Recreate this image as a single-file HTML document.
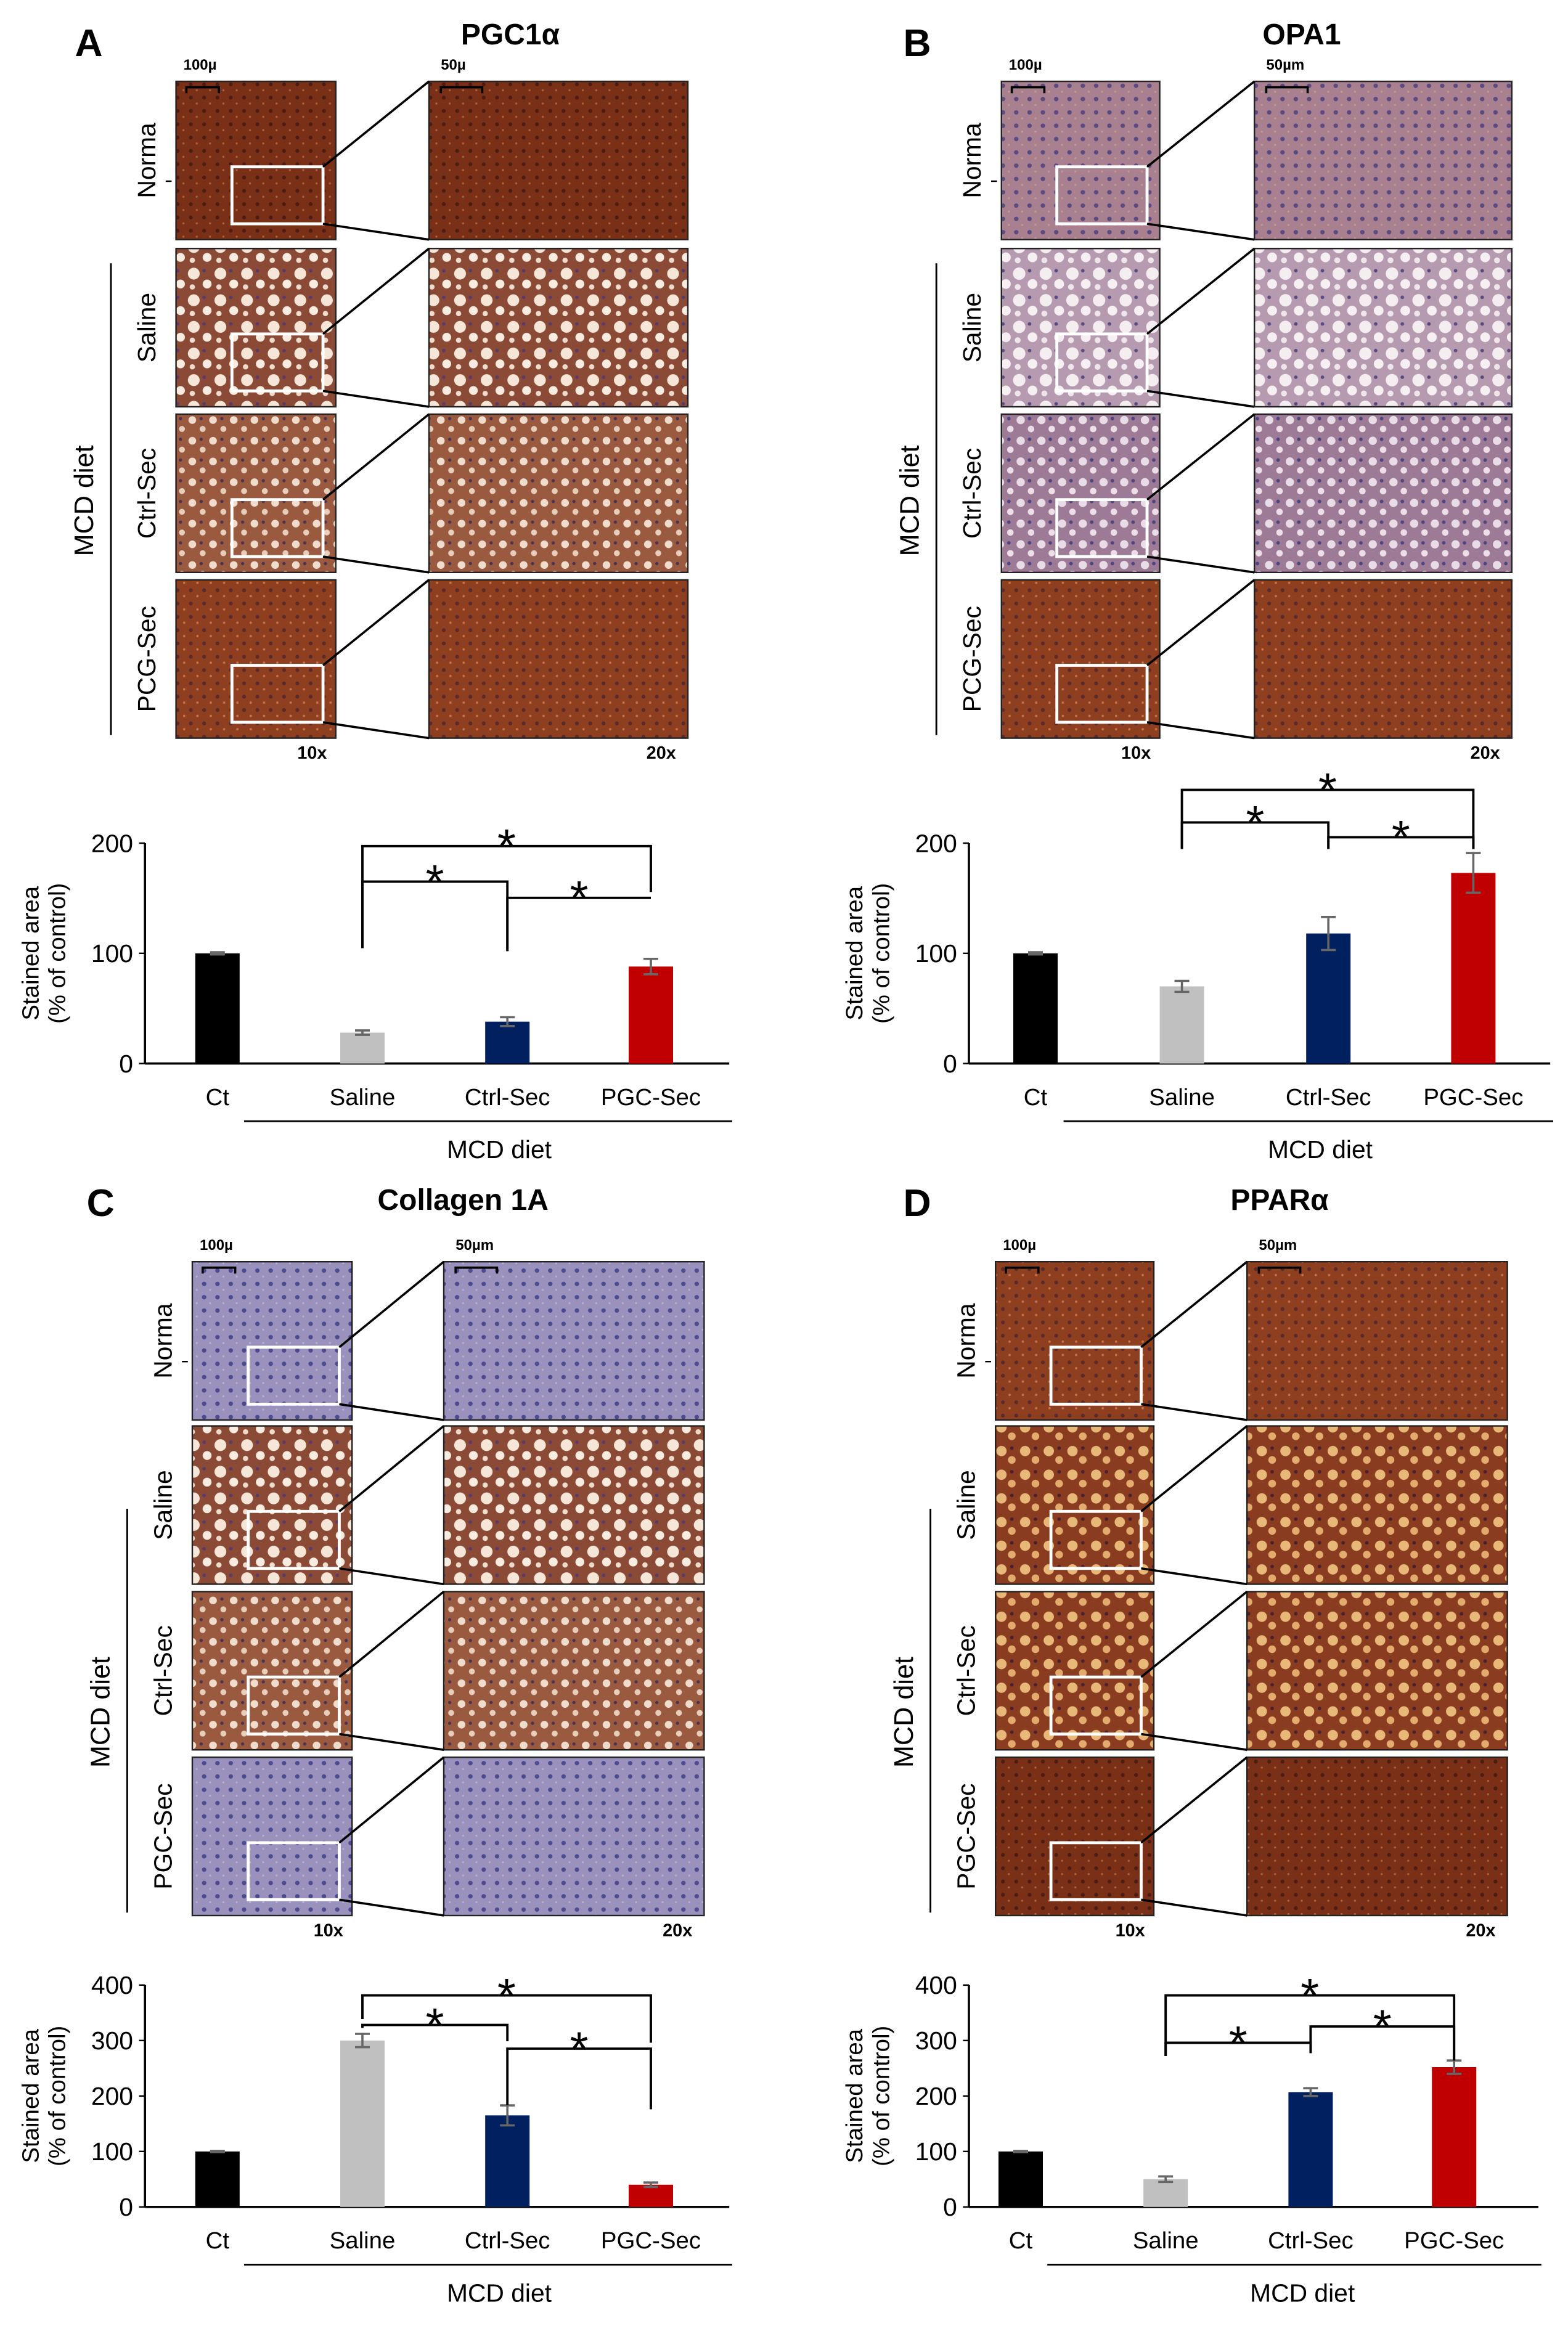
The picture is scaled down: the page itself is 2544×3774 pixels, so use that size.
<!DOCTYPE html>
<html><head><meta charset="utf-8">
<style>
html,body{margin:0;padding:0;background:#fff;}
svg{display:block;}
text{font-family:"Liberation Sans",sans-serif;}
</style></head>
<body>
<svg id="fig" width="2544" height="3774" viewBox="0 0 1060 1572.5" xmlns="http://www.w3.org/2000/svg">
<defs>
<pattern id="nuc-brown" width="9" height="9" patternUnits="userSpaceOnUse"><rect width="9" height="9" fill="#8e3f1f"/><circle cx="3" cy="3" r="1.3" fill="#5a2a2a"/><circle cx="7.5" cy="7" r="0.8" fill="#c8714a"/></pattern>
<pattern id="nuc-dark" width="9" height="9" patternUnits="userSpaceOnUse"><rect width="9" height="9" fill="#7a3016"/><circle cx="3" cy="3" r="1.3" fill="#4a1c14"/><circle cx="7" cy="7" r="0.7" fill="#b0603a"/></pattern>
<pattern id="nuc-purple" width="9" height="9" patternUnits="userSpaceOnUse"><rect width="9" height="9" fill="#a88090"/><circle cx="3" cy="4" r="1.5" fill="#5a4a80"/><circle cx="7" cy="8" r="0.7" fill="#c49a8a"/></pattern>
<pattern id="nuc-blue" width="9" height="9" patternUnits="userSpaceOnUse"><rect width="9" height="9" fill="#9a92bc"/><circle cx="3" cy="4" r="1.5" fill="#4d4a90"/><circle cx="7" cy="8" r="0.7" fill="#b8b0d0"/></pattern>
<pattern id="vac-brown" width="18" height="18" patternUnits="userSpaceOnUse"><rect width="18" height="18" fill="#8a4a36"/><circle cx="5" cy="5" r="4" fill="#f5e6d8"/><circle cx="14" cy="12" r="3" fill="#f8ece0"/><circle cx="12" cy="3" r="1.2" fill="#5a3a6a"/><circle cx="4" cy="14" r="1.8" fill="#f0dccc"/></pattern>
<pattern id="vac-light" width="18" height="18" patternUnits="userSpaceOnUse"><rect width="18" height="18" fill="#b59ab0"/><circle cx="5" cy="5" r="4.2" fill="#f4eef0"/><circle cx="14" cy="12" r="3.3" fill="#f6f0f2"/><circle cx="12" cy="3" r="1.2" fill="#5a4a80"/><circle cx="4" cy="14" r="2" fill="#efe6ec"/></pattern>
<pattern id="vac-purple" width="14" height="14" patternUnits="userSpaceOnUse"><rect width="14" height="14" fill="#9d7a95"/><circle cx="4" cy="4" r="2.8" fill="#e8dce6"/><circle cx="11" cy="10" r="2.2" fill="#ecdfe8"/><circle cx="10" cy="3" r="1.2" fill="#4e4580"/></pattern>
<pattern id="vac-orange" width="16" height="16" patternUnits="userSpaceOnUse"><rect width="16" height="16" fill="#8a3c20"/><circle cx="5" cy="5" r="3.5" fill="#e8b878"/><circle cx="12" cy="11" r="2.6" fill="#e3ac6c"/><circle cx="12" cy="3" r="1.2" fill="#4a2030"/></pattern>
<pattern id="vac-brownlight" width="14" height="14" patternUnits="userSpaceOnUse"><rect width="14" height="14" fill="#9a5a40"/><circle cx="4" cy="4" r="2.6" fill="#efdccc"/><circle cx="11" cy="10" r="2" fill="#e8cfbc"/><circle cx="10" cy="3" r="1.1" fill="#4e3050"/></pattern>
</defs>
<g id="root"></g>
</svg>
<script>
// ---- chart data ----
const categories = ["Ct","Saline","Ctrl-Sec","PGC-Sec"];
const valuesA = [100, 28, 38, 88];
const errorsA = [1, 2, 4, 7];
const valuesB = [100, 70, 118, 173];
const errorsB = [1, 5, 15, 18];
const valuesC = [100, 300, 165, 40];
const errorsC = [1, 12, 18, 4];
const valuesD = [100, 50, 207, 252];
const errorsD = [1, 5, 7, 12];
const ticksAB = [0, 100, 200];
const ticksCD = [0, 100, 200, 300, 400];
const barColors = ["#000000","#c0c0c0","#002060","#c00000"];

const NS = "http://www.w3.org/2000/svg";
const root = document.getElementById("root");
function mk(tag, attrs, parent, txt){
  const e = document.createElementNS(NS, tag);
  for (const k in attrs) e.setAttribute(k, attrs[k]);
  if (txt !== undefined) e.textContent = txt;
  (parent || root).appendChild(e);
  return e;
}

// ---- histology panels ----
function panel(cfg){
  const g = mk("g", {});
  
  
  const lab = mk("text", {x: cfg.labX, y: cfg.labY, "font-size": 26, "font-weight": "bold", "text-anchor": "middle"}, g, cfg.letter);
  
  
  const tt = mk("text", {x: cfg.titleX, y: cfg.titleY, "font-size": 20, "font-weight": "bold", "text-anchor": "middle"}, g, cfg.title);
  
  
  const rowNames = ["Norma","Saline","Ctrl-Sec", cfg.lastRow];
  cfg.rows.forEach((ry, i) => {
    const h = cfg.h;
    const s = mk("rect", {x: cfg.sx, y: ry, width: cfg.sw, height: h, fill: "url(#" + cfg.fills[i][0] + ")", stroke: "#222", "stroke-width": 1}, g);
    
    
    const l = mk("rect", {x: cfg.lx, y: ry, width: cfg.lw, height: h, fill: "url(#" + cfg.fills[i][1] + ")", stroke: "#222", "stroke-width": 1}, g);
    
    
    const bx = cfg.sx + cfg.sw * 0.35, bw = cfg.sw * 0.57, by = ry + h * 0.54, bh = h * 0.36;
    const b = mk("rect", {x: bx, y: by, width: bw, height: bh, fill: "none", stroke: "#fff", "stroke-width": 2}, g);
    
    
    mk("line", {x1: bx + bw, y1: by, x2: cfg.lx, y2: ry, stroke: "#000", "stroke-width": 1.5}, g);
    mk("line", {x1: bx + bw, y1: by + bh, x2: cfg.lx, y2: ry + h, stroke: "#000", "stroke-width": 1.5}, g);
    const rl = mk("text", {transform: "translate(" + (cfg.sx - 14) + "," + (ry + h / 2) + ") rotate(-90)", "font-size": 17, "text-anchor": "middle"}, g, rowNames[i]);
    
    
  });
  mk("line", {x1: cfg.sx - 7, y1: cfg.rows[0] + cfg.h / 2 + 14, x2: cfg.sx - 3, y2: cfg.rows[0] + cfg.h / 2 + 14, stroke: "#000"}, g);
  mk("text", {x: cfg.sx + 5, y: cfg.rows[0] - 8, "font-size": 10, "font-weight": "bold"}, g, "100µ");
  mk("text", {x: cfg.lx + 8, y: cfg.rows[0] - 8, "font-size": 10, "font-weight": "bold"}, g, cfg.scale2);
  mk("path", {d: "M" + (cfg.sx + 7) + "," + (cfg.rows[0] + 8) + "v-4h22v4", stroke: "#000", fill: "none", "stroke-width": 1.5}, g);
  mk("path", {d: "M" + (cfg.lx + 8) + "," + (cfg.rows[0] + 8) + "v-4h28v4", stroke: "#000", fill: "none", "stroke-width": 1.5}, g);
  const last = cfg.rows[3] + cfg.h;
  mk("text", {x: cfg.sx + cfg.sw - 16, y: last + 14, "font-size": 12, "font-weight": "bold", "text-anchor": "middle"}, g, "10x");
  mk("text", {x: cfg.lx + cfg.lw - 18, y: last + 14, "font-size": 12, "font-weight": "bold", "text-anchor": "middle"}, g, "20x");
  const mx = cfg.sx - 44;
  mk("line", {x1: mx, y1: cfg.mcdTop, x2: mx, y2: last - 2, stroke: "#000", "stroke-width": 1.2}, g);
  const md = mk("text", {transform: "translate(" + (mx - 12) + "," + ((cfg.mcdTop + last) / 2) + ") rotate(-90)", "font-size": 18, "text-anchor": "middle"}, g, "MCD diet");
  
  
}

panel({name: "pgc1a", letter: "A", labX: 60, labY: 38, title: "PGC1α", titleX: 345, titleY: 30, sx: 119, sw: 108, lx: 290, lw: 175, h: 107,
  rows: [55, 168, 280, 392], lastRow: "PCG-Sec", scale2: "50µ", mcdTop: 178,
  fills: [["nuc-dark","nuc-dark"],["vac-brown","vac-brown"],["vac-brownlight","vac-brownlight"],["nuc-brown","nuc-brown"]]});
panel({name: "opa1", letter: "B", labX: 620, labY: 38, title: "OPA1", titleX: 880, titleY: 30, sx: 677, sw: 107, lx: 848, lw: 174, h: 107,
  rows: [55, 168, 280, 392], lastRow: "PCG-Sec", scale2: "50µm", mcdTop: 178,
  fills: [["nuc-purple","nuc-purple"],["vac-light","vac-light"],["vac-purple","vac-purple"],["nuc-brown","nuc-brown"]]});
panel({name: "collagen1a", letter: "C", labX: 68, labY: 822, title: "Collagen 1A", titleX: 313, titleY: 818, sx: 130, sw: 108, lx: 300, lw: 176, h: 107,
  rows: [853, 964, 1076, 1188], lastRow: "PGC-Sec", scale2: "50µm", mcdTop: 1020,
  fills: [["nuc-blue","nuc-blue"],["vac-brown","vac-brown"],["vac-brownlight","vac-brownlight"],["nuc-blue","nuc-blue"]]});
panel({name: "ppara", letter: "D", labX: 620, labY: 822, title: "PPARα", titleX: 865, titleY: 818, sx: 673, sw: 107, lx: 843, lw: 176, h: 107,
  rows: [853, 964, 1076, 1188], lastRow: "PGC-Sec", scale2: "50µm", mcdTop: 1020,
  fills: [["nuc-brown","nuc-brown"],["vac-orange","vac-orange"],["vac-orange","vac-orange"],["nuc-dark","nuc-dark"]]});

// ---- bar charts ----
function chart(cfg, values, errors, ticks){
  const g = mk("g", {});
  
  
  const tmax = ticks[ticks.length - 1];
  const y = v => cfg.y0 - (v / tmax) * (cfg.y0 - cfg.yTop);
  const ax = mk("line", {x1: cfg.axX, y1: cfg.yTop, x2: cfg.axX, y2: cfg.y0, stroke: "#000", "stroke-width": 1.5}, g);
  
  
  const xa = mk("line", {x1: cfg.axX, y1: cfg.y0, x2: cfg.axEnd, y2: cfg.y0, stroke: "#000", "stroke-width": 1.5}, g);
  
  
  ticks.forEach(t => {
    mk("line", {x1: cfg.axX - 4, y1: y(t), x2: cfg.axX, y2: y(t), stroke: "#000"}, g);
    const tl = mk("text", {x: cfg.axX - 8, y: y(t) + 6, "font-size": 17, "text-anchor": "end"}, g, t);
    
    
  });
  const yt = mk("text", {transform: "translate(" + (cfg.axX - 72) + "," + ((cfg.y0 + cfg.yTop) / 2) + ") rotate(-90)", "font-size": 16, "text-anchor": "middle"}, g);
  
  
  mk("tspan", {x: 0, dy: 0}, yt, "Stained area");
  mk("tspan", {x: 0, dy: 18}, yt, "(% of control)");
  values.forEach((v, i) => {
    const cx = cfg.xs[i];
    const bar = mk("rect", {x: cx - 15, y: y(v), width: 30, height: cfg.y0 - y(v), fill: barColors[i]}, g);
    
    
    const e = errors[i];
    const eb = mk("path", {d: "M" + (cx - 5) + "," + y(v + e) + "h10M" + cx + "," + y(v + e) + "V" + y(v - e) + "M" + (cx - 5) + "," + y(v - e) + "h10", stroke: "#666", "stroke-width": 1.5, fill: "none"}, g);
    
    
    const xl = mk("text", {x: cx, y: cfg.y0 + 28, "font-size": 16, "text-anchor": "middle"}, g, categories[i]);
    
    
  });
  mk("line", {x1: cfg.xs[1] - 80, y1: cfg.y0 + 39, x2: cfg.axEnd + 2, y2: cfg.y0 + 39, stroke: "#000", "stroke-width": 1.2}, g);
  const md = mk("text", {x: (cfg.xs[1] + cfg.xs[3]) / 2 - 5, y: cfg.y0 + 64, "font-size": 17, "text-anchor": "middle"}, g, "MCD diet");
  
  
  cfg.brackets.forEach(b => {
    const [a, c, ly, da, dc] = b;
    const xa1 = cfg.xs[a], xc = cfg.xs[c];
    const br = mk("path", {d: "M" + xa1 + "," + da + "V" + ly + "H" + xc + "V" + dc, stroke: "#000", "stroke-width": 1.6, fill: "none"}, g);
    
    
    const st = mk("text", {x: (xa1 + xc) / 2, y: ly + 11, "font-size": 32, "text-anchor": "middle"}, g, "*");
    
    
  });
}

chart({name: "pgc1a", axX: 98, axEnd: 493, yTop: 570, y0: 719, xs: [147, 245, 343, 440],
  brackets: [[1, 3, 572, 641, 603], [1, 2, 596, 641, 643], [2, 3, 607, 643, 607]]}, valuesA, errorsA, ticksAB);
chart({name: "opa1", axX: 655, axEnd: 1048, yTop: 570, y0: 719, xs: [700, 799, 898, 996],
  brackets: [[1, 3, 534, 574, 574], [1, 2, 556, 574, 574], [2, 3, 566, 574, 574]]}, valuesB, errorsB, ticksAB);
chart({name: "collagen1a", axX: 98, axEnd: 493, yTop: 1342, y0: 1492, xs: [147, 245, 343, 440],
  brackets: [[1, 3, 1349, 1365, 1381], [1, 2, 1369, 1371, 1380], [2, 3, 1385, 1423, 1426]]}, valuesC, errorsC, ticksCD);
chart({name: "ppara", axX: 655, axEnd: 1040, yTop: 1342, y0: 1492, xs: [690, 788, 886, 983],
  brackets: [[1, 3, 1349, 1390, 1393], [1, 2, 1381, 1390, 1388], [2, 3, 1370, 1388, 1393]]}, valuesD, errorsD, ticksCD);
</script>
</body></html>
